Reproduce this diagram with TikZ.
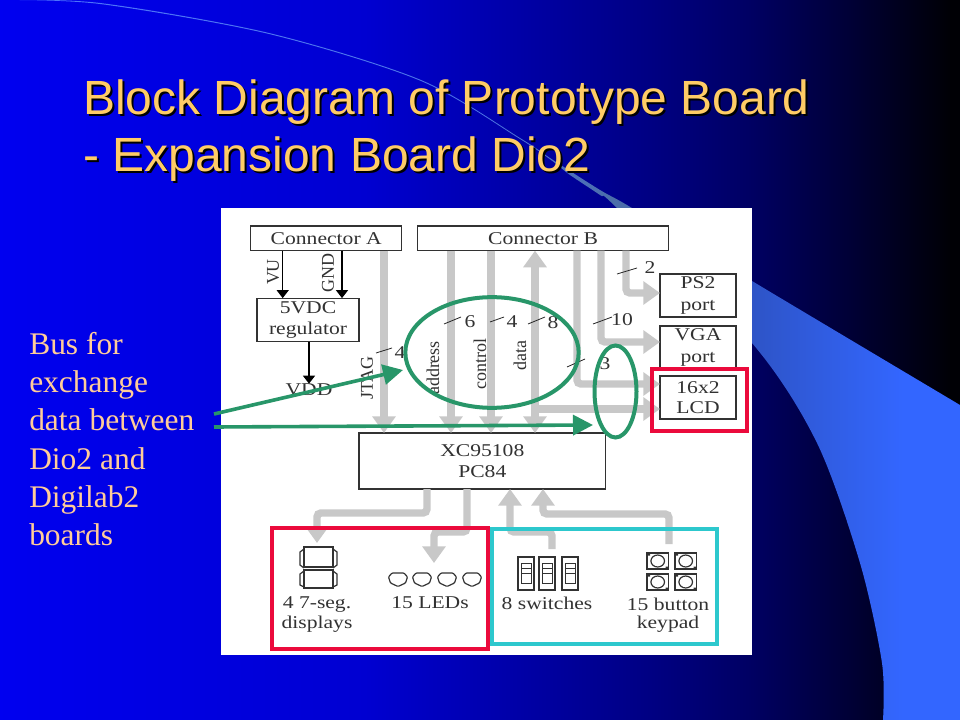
\documentclass[tikz,border=0pt]{standalone}
\usepackage{fontspec}
\usetikzlibrary{arrows.meta,shapes.geometric}
\setmainfont{Liberation Serif}
\newfontfamily\titlefont{Liberation Sans}
\newfontfamily\imgfont[FakeStretch=1.2]{Liberation Serif}
\pgfdeclarehorizontalshading{slidebg}{100bp}{
  rgb(0bp)=(0,0,.94);
  rgb(25bp)=(0,0,.94);
  rgb(44bp)=(0,0,.82);
  rgb(59bp)=(0,0,.51);
  rgb(64bp)=(0,0,.39);
  rgb(69bp)=(0,0,.22);
  rgb(74.5bp)=(0,0,.02);
  rgb(100bp)=(0,0,0)}
\pgfdeclarehorizontalshading{swooshbg}{100bp}{
  rgb(0bp)=(.3,.45,1);
  rgb(25bp)=(.3,.45,1);
  rgb(50bp)=(.3,.45,.9);
  rgb(57bp)=(.3,.43,.66);
  rgb(64.2bp)=(.18,.33,.78);
  rgb(72bp)=(.2,.4,1);
  rgb(100bp)=(.2,.4,1)}
\definecolor{titlecol}{RGB}{255,204,102}
\definecolor{sidecol}{RGB}{255,204,153}
\definecolor{greyarr}{RGB}{200,200,200}
\definecolor{inkcol}{RGB}{50,50,50}
\definecolor{greenmark}{RGB}{40,150,105}
\definecolor{redmark}{RGB}{235,10,60}
\definecolor{cyanmark}{RGB}{45,200,205}
\tikzset{
  boxnode/.style={draw=inkcol,line width=.9pt,fill=white,inner sep=0pt,outer sep=0pt,font=\imgfont\fontsize{13.5}{15}\selectfont,text=inkcol,align=center},
  imglabel/.style={inner sep=0pt,text=inkcol,font=\imgfont\fontsize{13.5}{15}\selectfont},
  vertlabel/.style={inner sep=0pt,text=inkcol,rotate=90,font=\fontsize{13.5}{15}\selectfont},
  greybus/.style={draw=greyarr,line width=5.6pt,rounded corners=3pt},
  greyhead/.style={greybus,-{Triangle[length=12.5pt,width=17pt]}},
  bothhead/.style={greybus,{Triangle[length=12.5pt,width=17pt]}-{Triangle[length=12.5pt,width=17pt]}},
  powerline/.style={draw=black,line width=.9pt,-{Triangle[length=6pt,width=9pt]}},
  buswidth/.style={draw=black!85,line width=.6pt},
  greenring/.style={draw=greenmark,line width=3pt},
  greenarrow/.style={draw=greenmark,line width=2.7pt,-{Triangle[length=15pt,width=15pt]}},
  redframe/.style={draw=redmark,line width=3pt},
  cyanframe/.style={draw=cyanmark,line width=3pt},
  sym/.style={draw=inkcol,line width=.7pt}
}
\begin{document}
\begin{tikzpicture}[x=.75pt,y=-.75pt]
\useasboundingbox (0,0) rectangle (960,720);
\shade[shading=slidebg] (0,0) rectangle (960,720);
\shade[shading=swooshbg] plot[smooth] coordinates {(0,0) (100,3) (269,33) (421,80) (520,138) (553,160) (600,190) (632,208) (752,281) (960,405)}
  -- (960,720) -- (883,720)
  -- plot[smooth] coordinates {(883,720) (882,663) (860,563) (817,443) (752,343) (617,208) (600,195) (570,175) (553,161.5) (520,139) (421,81) (269,34) (100,4) (0,0)} -- cycle;

% title
\node[anchor=north west,inner sep=0pt,text=black,align=left,font=\titlefont\fontsize{36}{43.2}\selectfont] at (85,81) {Block Diagram of Prototype Board\\- Expansion Board Dio2};
\node[anchor=north west,inner sep=0pt,text=titlecol,align=left,font=\titlefont\fontsize{36}{43.2}\selectfont] (title) at (83,79) {Block Diagram of Prototype Board\\- Expansion Board Dio2};

% picture sheet
\fill[white] (221,208) rectangle (752,655);

% blocks
\node[boxnode,minimum width=113.2pt,minimum height=18.5pt] (connA) at (326.2,238.3) {Connector A};
\node[boxnode,minimum width=188pt,minimum height=18.5pt] (connB) at (543,238.3) {Connector B};
\node[boxnode,minimum width=76.5pt,minimum height=32.8pt] (reg) at (308,320) {5VDC\\[1pt]regulator};
\node[imglabel] (vdd) at (309,390) {VDD};
\node[boxnode,minimum width=185pt,minimum height=42pt] (chip) at (482.3,461) {XC95108\\[1pt]PC84};
\node[boxnode,minimum width=57pt,minimum height=32.3pt] (ps2) at (698,295.5) {PS2\\[1pt]port};
\node[boxnode,minimum width=57pt,minimum height=32.3pt] (vga) at (698,347.5) {VGA\\[1pt]port};
\node[boxnode,minimum width=57pt,minimum height=32.3pt] (lcd) at (698,397.5) {16x2\\LCD};

% x positions of the buses
\coordinate (xvu) at (282.7,0);
\coordinate (xgnd) at (342,0);
\coordinate (xreg) at (309,0);
\coordinate (xj) at (384,0);
\coordinate (xa) at (451,0);
\coordinate (xc) at (491,0);
\coordinate (xd) at (535,0);
\coordinate (xl) at (577,0);
\coordinate (xv) at (601,0);
\coordinate (xp) at (626,0);
\coordinate (ylcda) at (0,384);
\coordinate (ylcdb) at (0,409);
\coordinate (bendvga) at (601,342);
\coordinate (bendps) at (626,293);

% power
\draw[powerline] (connA.south -| xvu) -- (reg.north -| xvu);
\draw[powerline] (connA.south -| xgnd) -- (reg.north -| xgnd);
\draw[powerline] (reg.south -| xreg) -- (vdd.north -| xreg);

% buses from connectors to chip
\draw[greyhead] (connA.south -| xj) -- (chip.north -| xj);
\draw[greyhead] (connB.south -| xa) -- (chip.north -| xa);
\draw[greyhead] (connB.south -| xc) -- (chip.north -| xc);
\draw[bothhead] (connB.south -| xd) -- (chip.north -| xd);

% buses to ports
\draw[greyhead] (connB.south -| xp) -- (bendps) -- (ps2.west |- bendps);
\draw[greyhead] (connB.south -| xv) -- (bendvga) -- (vga.west |- bendvga);
\draw[greyhead] (connB.south -| xl) -- (xl |- ylcda) -- (lcd.west |- ylcda);
\draw[greybus,-{Triangle[length=12.5pt,width=17pt]}] (xd |- ylcdb) -- (lcd.west |- ylcdb);

% lower symbols and labels
\node[imglabel] (seglabA) at (317,605) {4 7-seg.};
\node[imglabel] (seglabB) at (317,624) {displays};
\node[imglabel] (ledlab) at (430,603) {15 LEDs};
\node[imglabel] (swlab) at (547,603) {8 switches};
\node[imglabel] (keylabA) at (668,604) {15 button};
\node[imglabel] (keylabB) at (668,624) {keypad};
\coordinate (segtop) at (317,543);
\coordinate (ledtop) at (434,563);
\coordinate (swtop) at (552,549);
\coordinate (keytop) at (669,544);

% buses below the chip
\draw[greyhead] (chip.south -| 427,0) -- (427,513) -- (317,513) -- (segtop);
\draw[greyhead] (chip.south -| 467,0) -- (467,532) -- (434,532) -- (ledtop);
\draw[greyhead] (swtop) -- (552,532) -- (510,532) -- (chip.south -| 510,0);
\draw[greyhead] (keytop) -- (669,514) -- (543,514) -- (chip.south -| 543,0);

% vertical labels
\node[vertlabel] at (273,272) {VU};
\node[vertlabel] at (328,273) {GND};
\node[vertlabel] at (367,378) {JTAG};
\node[vertlabel] at (433,368) {address};
\node[vertlabel] at (480,364) {control};
\node[vertlabel] at (520,356) {data};

% bus widths
\draw[buswidth] (376,353) -- (392,348);
\node[imglabel] at (400,353) {4};
\draw[buswidth] (444,324) -- (461,317);
\node[imglabel] at (470,322) {6};
\draw[buswidth] (490,322) -- (504,317);
\node[imglabel] at (512,322) {4};
\draw[buswidth] (528,324) -- (545,317);
\node[imglabel] at (553,323) {8};
\draw[buswidth] (567,367) -- (585,359);
\node[imglabel] at (605,364) {3};
\draw[buswidth] (593,324) -- (612,317);
\node[imglabel] at (622,320) {10};
\draw[buswidth] (617,274) -- (637,268);
\node[imglabel] at (650,268) {2};

% 7-segment display
\draw[sym,line width=.9pt] (304,547) rectangle (333,567);
\draw[sym,line width=.9pt] (304,570) rectangle (333,588);
\draw[sym,line width=.9pt] (304,549) -- (300,552) -- (300,565) -- (304,568) (333,549) -- (337,552) -- (337,565) -- (333,568);
\draw[sym,line width=.9pt] (304,571) -- (300,574) -- (300,585) -- (304,587) (333,571) -- (337,574) -- (337,585) -- (333,587);

% LEDs
\foreach \lx in {398,422,447,472}{
  \draw[sym,line width=.9pt,rounded corners=.7pt] (\lx-6,573) -- (\lx+6,573) -- (\lx+9.5,577) -- (\lx+7.5,583) -- (\lx,586.5) -- (\lx-7.5,583) -- (\lx-9.5,577) -- cycle;
}

% switches
\foreach \sx in {518,539,562}{
  \draw[sym,line width=.9pt] (\sx,557) rectangle (\sx+16,590);
  \draw[sym] (\sx+3,563) rectangle (\sx+13,583);
  \draw[sym] (\sx+3,568) -- (\sx+13,568) (\sx+3,573) -- (\sx+13,573);
}

% keypad
\foreach \kx/\ky in {647/553,675/553,647/574,675/574}{
  \draw[sym,line width=1.1pt] (\kx,\ky) rectangle (\kx+21.5,\ky+16);
  \draw[sym,line width=.9pt] (\kx+10.7,\ky+8) ellipse (6.8 and 6);
  \fill[inkcol] (\kx,\ky) rectangle (\kx+3,\ky+2.5) (\kx+18.5,\ky+13.5) rectangle (\kx+21.5,\ky+16);
}

% colored highlights
\draw[redframe] (652,369) rectangle (747,431);
\draw[redframe] (272,528) rectangle (488,649);
\draw[cyanframe] (491.5,529) rectangle (717,644);
\node[greenring,ellipse,minimum width=130pt,minimum height=83pt,inner sep=0pt] (busA) at (492,352.5) {};
\node[greenring,ellipse,minimum width=31.5pt,minimum height=69pt,inner sep=0pt] (busB) at (615.5,391.5) {};

% side label
\node[anchor=north west,inner sep=0pt,text=sidecol,align=left,font=\fontsize{23.6}{28.65}\selectfont] (side) at (29,332) {Bus for\\exchange\\data between\\Dio2 and\\Digilab2\\boards};
\coordinate (sideA) at (214,414);
\coordinate (sideB) at (214,427);
\coordinate (tipA) at (403,370);
\coordinate (tipB) at (593,425);
\draw[greenarrow] (sideA) -- (tipA);
\draw[greenarrow] (sideB) -- (tipB);
\end{tikzpicture}
\end{document}
